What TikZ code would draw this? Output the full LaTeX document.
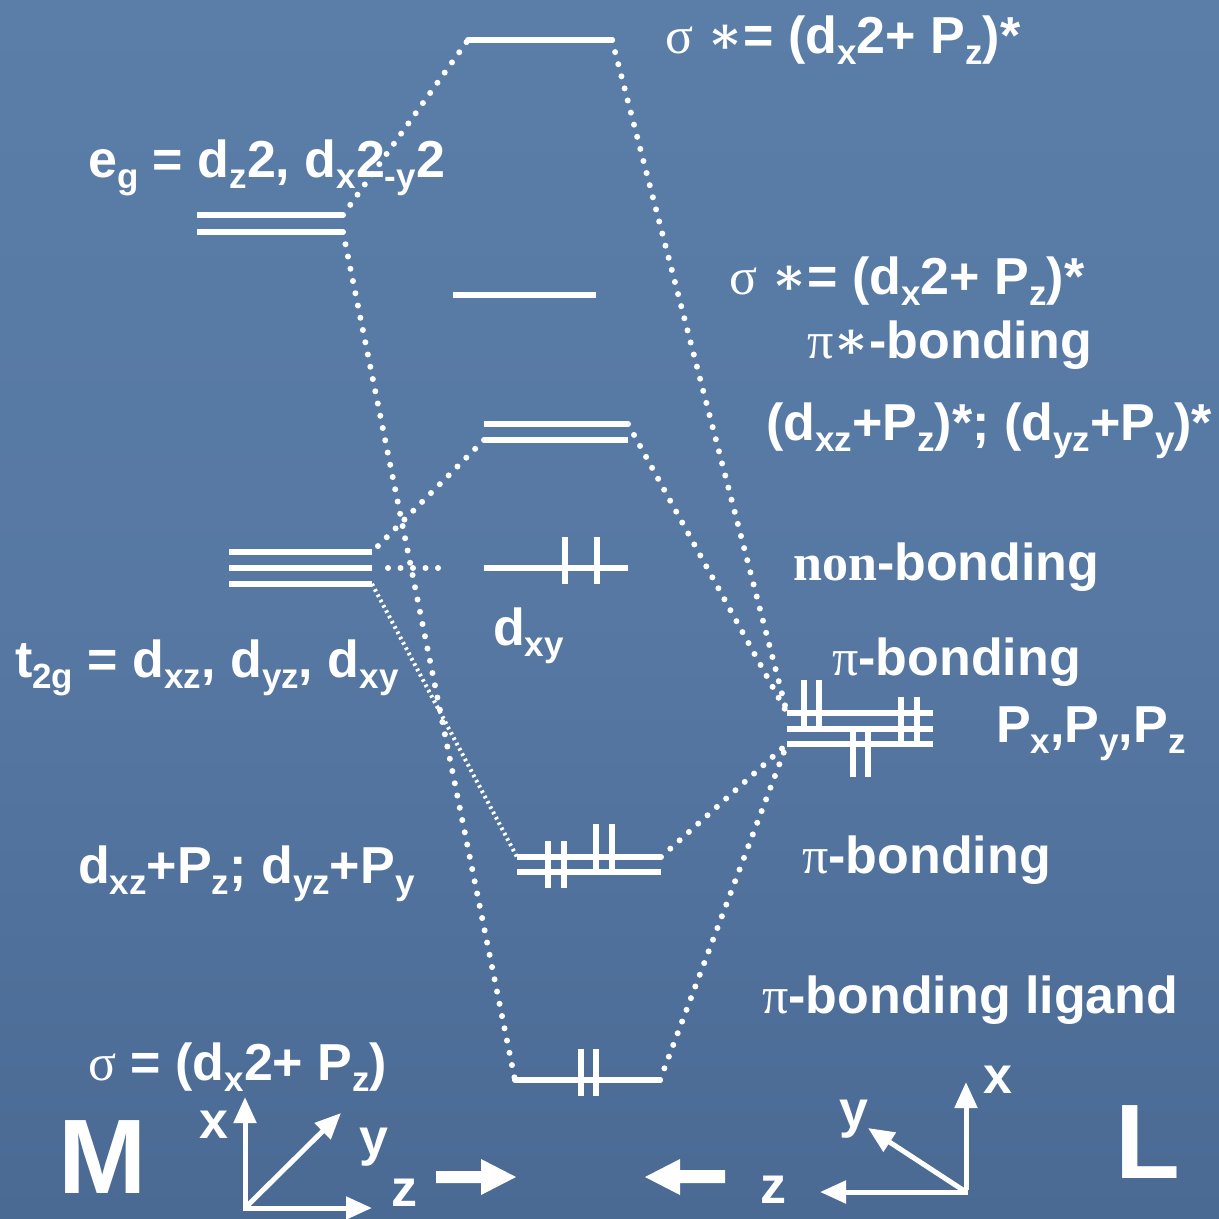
\documentclass[tikz,border=0pt]{standalone}
\usepackage{fontspec}
\setmainfont{Liberation Sans}
\newfontfamily\serifg{Liberation Serif}
\newfontfamily\astf{DejaVu Serif}
\usetikzlibrary{arrows.meta}
\definecolor{bgtop}{RGB}{90,126,168}
\definecolor{bgmid}{RGB}{86,120,162}
\definecolor{bgbot}{RGB}{74,106,148}
\newcommand\sbs[1]{\raisebox{-0.22em}{\fontsize{35}{35}\selectfont #1}}
\newcommand\sig{{\serifg\mdseries σ}}
\newcommand\pii{{\serifg\mdseries π}}
\newcommand\astr{{\astf\bfseries ∗}}
\begin{document}
\begin{tikzpicture}[x=1pt,y=-1pt,
  lvl/.style={white,line width=6pt},
  el/.style={white,line width=6.5pt},
  dots/.style={white,line width=6pt,line cap=round,dash pattern=on 0pt off 12.5pt},
  fdots/.style={white,line width=4pt,dash pattern=on 2.5pt off 3.5pt},
  txt/.style={anchor=base west,inner sep=0pt,text=white,font=\fontsize{52}{60}\selectfont\bfseries},
  ax/.style={white,line width=5pt,-{Triangle[length=26pt,width=22pt]}},
  big/.style={anchor=base west,inner sep=0pt,text=white,font=\fontsize{106}{110}\selectfont\bfseries}]
\useasboundingbox (0,0) rectangle (1219,1219);
\shade[top color=bgtop,bottom color=bgbot,middle color=bgmid] (0,0) rectangle (1219,1219);

% ---- level end points
\coordinate (egAL) at (197,215); \coordinate (egAR) at (343,215);
\coordinate (egBL) at (197,232); \coordinate (egBR) at (343,232);
\coordinate (t2AL) at (229,552); \coordinate (t2AR) at (372,552);
\coordinate (t2BL) at (229,568); \coordinate (t2BR) at (372,568);
\coordinate (t2CL) at (229,584); \coordinate (t2CR) at (372,584);
\coordinate (ssL) at (468,40);  \coordinate (ssR) at (612,40);
\coordinate (mdL) at (453,295); \coordinate (mdR) at (596,295);
\coordinate (piAL) at (484,424); \coordinate (piAR) at (628,424);
\coordinate (piBL) at (484,440); \coordinate (piBR) at (628,440);
\coordinate (nbL) at (484,568); \coordinate (nbR) at (628,568);
\coordinate (pbAL) at (517,857); \coordinate (pbAR) at (661,857);
\coordinate (pbBL) at (517,872); \coordinate (pbBR) at (661,872);
\coordinate (sbL) at (515,1080); \coordinate (sbR) at (660,1080);
\coordinate (lgAL) at (787,713); \coordinate (lgAR) at (933,713);
\coordinate (lgBL) at (787,729); \coordinate (lgBR) at (933,729);
\coordinate (lgCL) at (787,744); \coordinate (lgCR) at (933,744);

% ---- levels
\foreach \a/\b in {egAL/egAR,egBL/egBR,t2AL/t2AR,t2BL/t2BR,t2CL/t2CR,mdL/mdR,piAL/piAR,piBL/piBR,nbL/nbR,pbAL/pbAR,pbBL/pbBR,lgAL/lgAR,lgBL/lgBR,lgCL/lgCR}
  \draw[lvl] (\a) -- (\b);
\draw[lvl,line cap=round] (ssL) -- (ssR);
\draw[lvl,line cap=round] (sbL) -- (sbR);

% ---- electrons
\foreach \x/\ya/\yb in {565/537/584,597/537/584,
  548/841/888,564/841/888,596/824/871,612/824/871,
  581/1049/1096,596/1049/1096,
  804/680/731,819/680/731,853/728/777,868/728/777,901/697/742,917/697/742}
  \draw[el] (\x,\ya) -- (\x,\yb);

% ---- correlation lines
\draw[dots] (egAR) -- (ssL);
\draw[dots] (ssR) -- (lgAL);
\draw[dots] (egBR) -- (sbL);
\draw[dots] (piBL) -- (t2AR);
\draw[dots] (piAR) -- (lgAL);
\draw[dots] (pbAR) -- (lgCL);
\draw[dots] (sbR) -- (lgCL);
\draw[dots,shorten <=16pt,shorten >=34pt] (t2BR) -- (nbL);
\draw[fdots] (t2CR) -- (pbAL);

% ---- labels
\node[txt] (l1) at (665,53) {\sig{} \astr= (d\sbs{x}2+ P\sbs{z})*};
\node[txt] (l2) at (88,177) {e\sbs{g} = d\sbs{z}2, d\sbs{x}2\sbs{-y}2};
\node[txt] (l3) at (729,294) {\sig{} \astr= (d\sbs{x}2+ P\sbs{z})*};
\node[txt] (l4) at (807,358) {\pii\astr-bonding};
\node[txt] (l5) at (766,440) {(d\sbs{xz}+P\sbs{z})*; (d\sbs{yz}+P\sbs{y})*};
\node[txt] (l6) at (793,580) {{\serifg non}-bonding};
\node[txt] (l7) at (832,675) {\pii-bonding};
\node[txt] (l8) at (996,742) {P\sbs{x},P\sbs{y},P\sbs{z}};
\node[txt] (l9) at (802,873) {\pii-bonding};
\node[txt] (l10) at (762,1013) {\pii-bonding ligand};
\node[txt] (l11) at (15,677) {t\sbs{2g} = d\sbs{xz}, d\sbs{yz}, d\sbs{xy}};
\node[txt] (l12) at (493,645) {d\sbs{xy}};
\node[txt] (l13) at (78,883) {d\sbs{xz}+P\sbs{z}; d\sbs{yz}+P\sbs{y}};
\node[txt] (l14) at (88,1080) {\sig{} = (d\sbs{x}2+ P\sbs{z})};

% ---- M axes
\node[big] (M) at (58,1193) {M};
\coordinate (mo) at (245,1208);
\coordinate (mx) at (245,1097);
\coordinate (my) at (341,1113);
\coordinate (mz) at (372,1208);
\draw[ax] ([yshift=2pt]mo) -- (mx);
\draw[ax] ([xshift=-2pt]mo) -- (mz);
\draw[ax] (mo) -- (my);
\node[txt,anchor=base] (mxl) at (214,1138) {x};
\node[txt,anchor=base] (myl) at (374,1155) {y};
\node[txt,anchor=base] (mzl) at (404,1206) {z};
\fill[white] (436,1171) -- (481,1171) -- (481,1159) -- (516,1177) -- (481,1195) -- (481,1183) -- (436,1183) -- cycle;

% ---- L axes
\node[big] (L) at (1115,1178) {L};
\coordinate (lo) at (966,1192);
\coordinate (lx) at (966,1082);
\coordinate (ly) at (868,1128);
\coordinate (lz) at (820,1192);
\draw[ax] ([yshift=2pt]lo) -- (lx);
\draw[ax] ([xshift=2pt]lo) -- (lz);
\draw[ax] (lo) -- (ly);
\node[txt,anchor=base] (lxl) at (998,1093) {x};
\node[txt,anchor=base] (lyl) at (854,1127) {y};
\node[txt,anchor=base] (lzl) at (773,1203) {z};
\fill[white] (725,1170) -- (680,1170) -- (680,1159) -- (645,1177) -- (680,1195) -- (680,1183) -- (725,1183) -- cycle;
\end{tikzpicture}
\end{document}
